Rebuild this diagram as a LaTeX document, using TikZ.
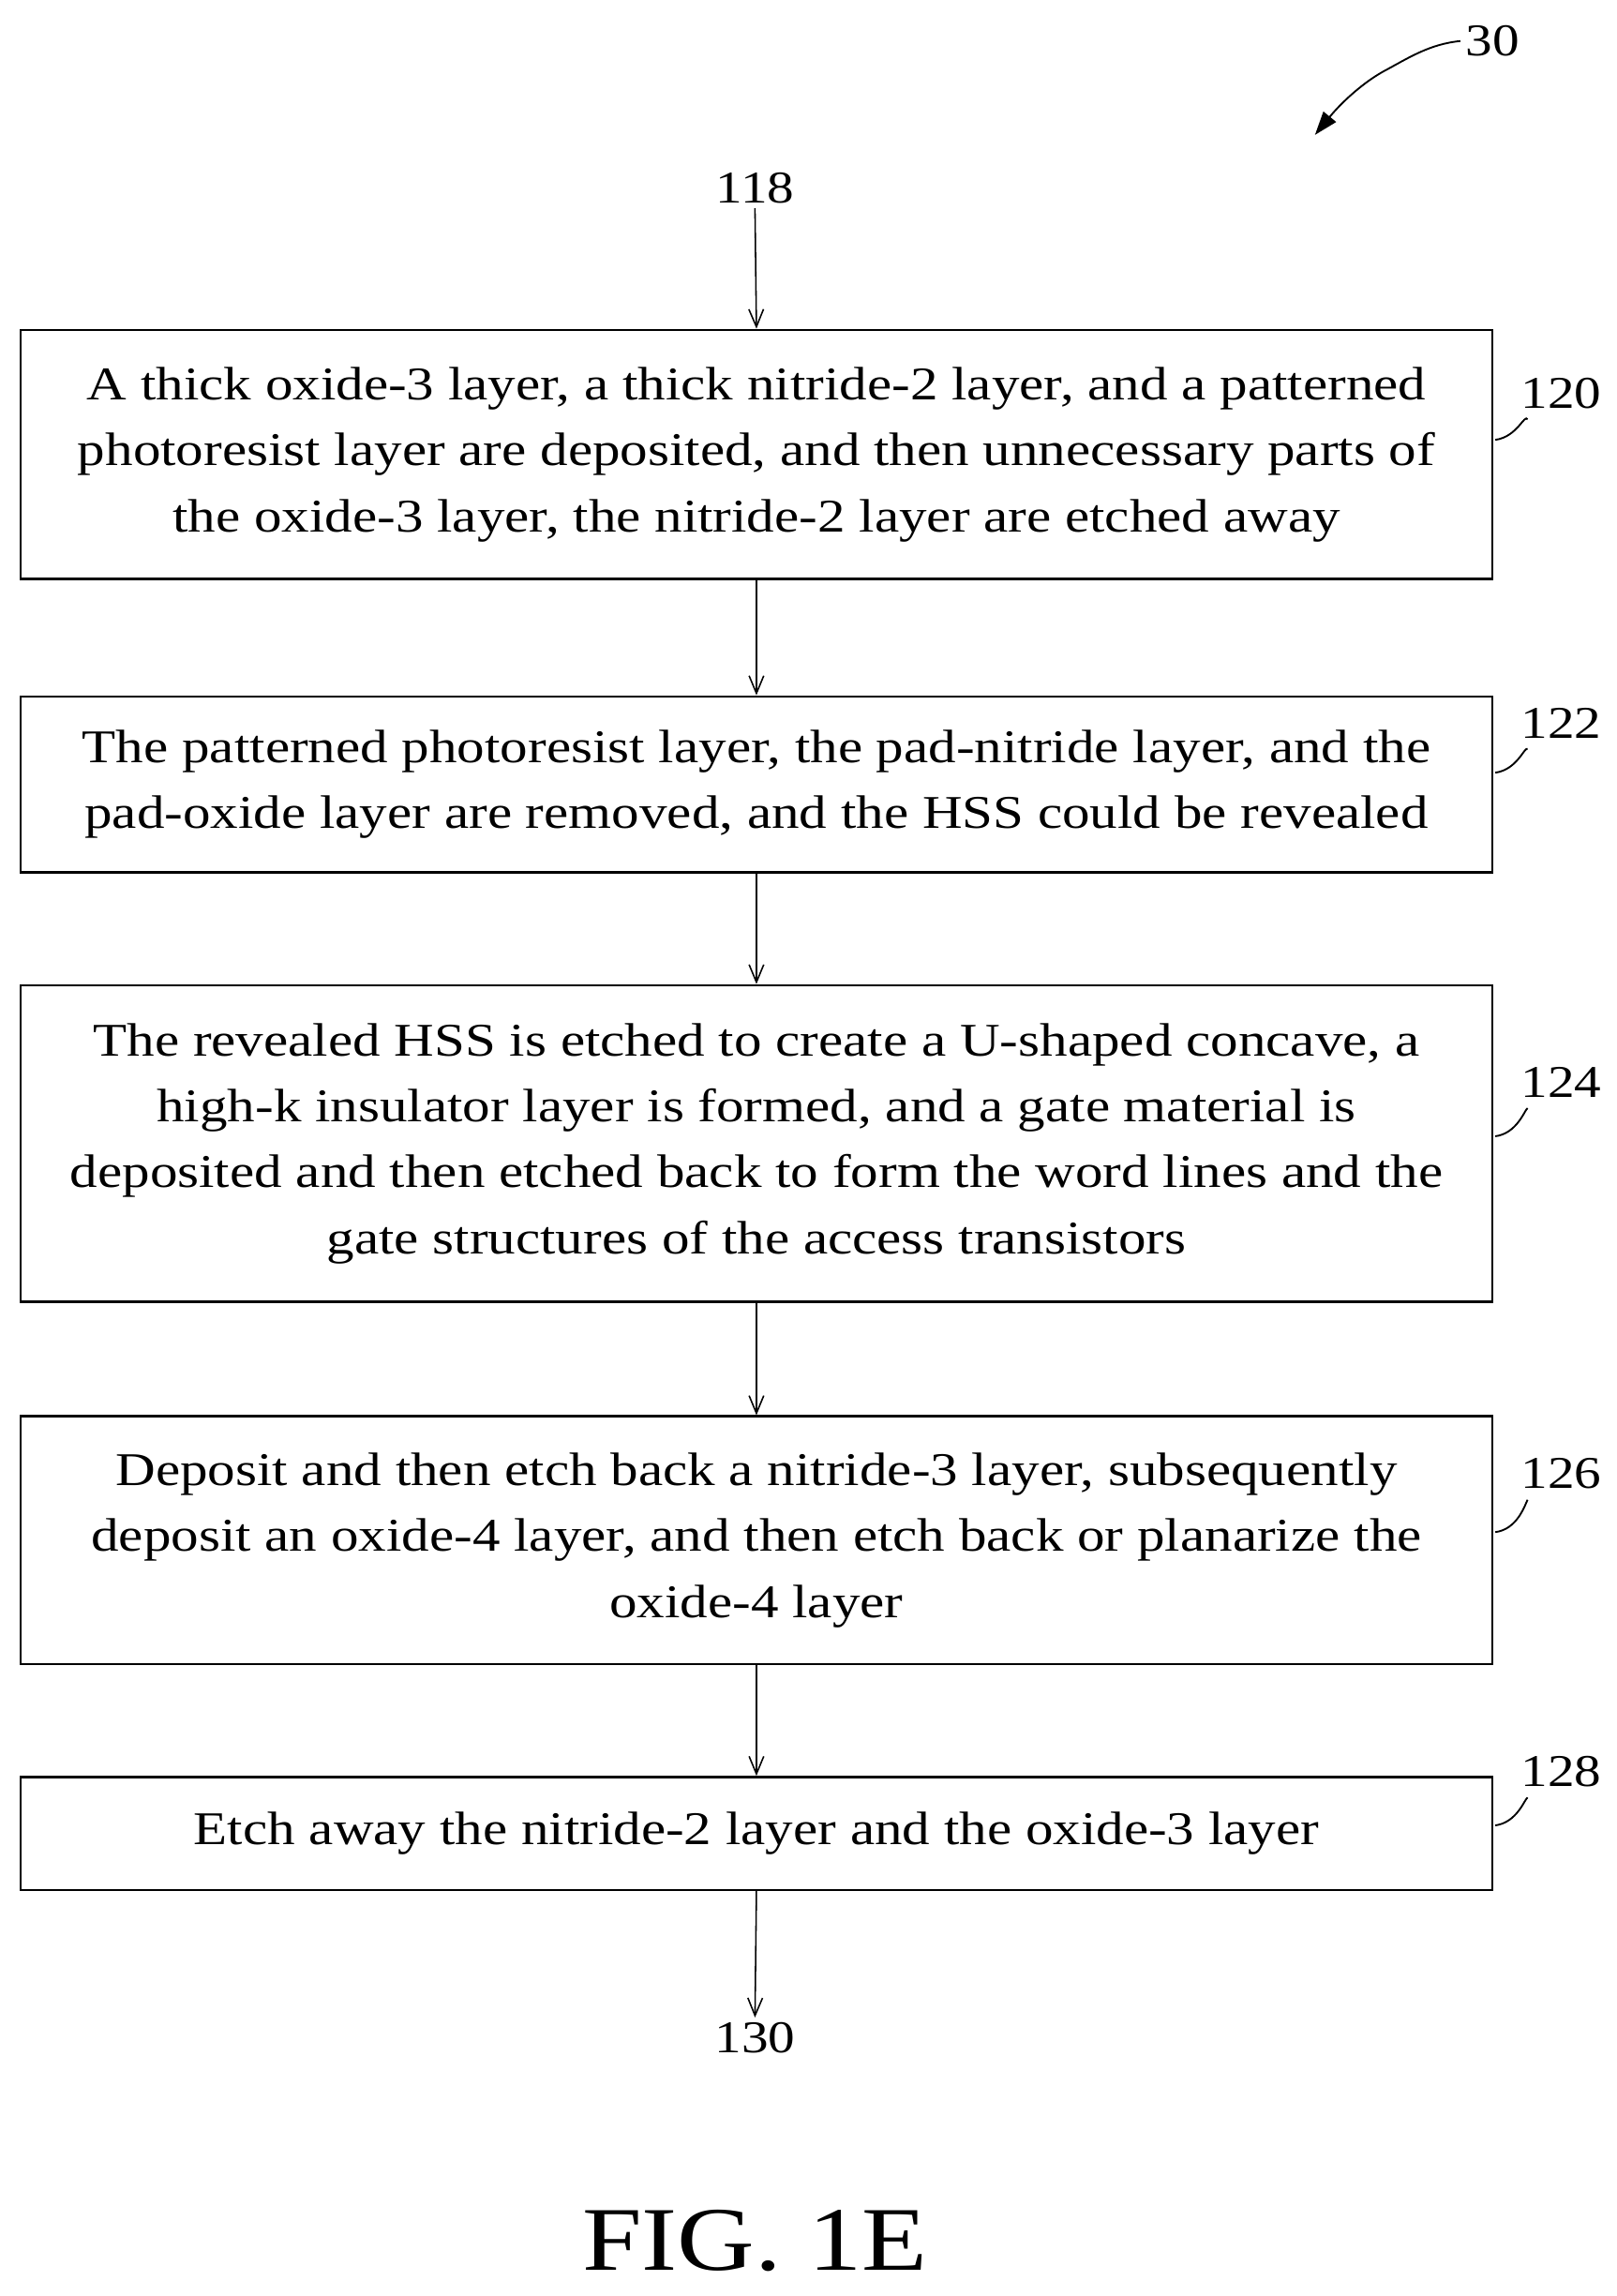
\documentclass[tikz,border=0pt]{standalone}
\usepackage{fontspec}
\setmainfont{Liberation Serif}[FakeStretch=1.18]
\usetikzlibrary{arrows.meta,calc}
\begin{document}
\begin{tikzpicture}[x=1pt,y=-1pt,
  box/.style={draw,line width=1.6pt,minimum width=1004pt,align=center,font=\fontsize{32}{45}\selectfont,inner sep=0pt},
  lab/.style={font=\fontsize{31}{36}\selectfont},
  arr/.style={->,line width=1pt,>={Straight Barb[length=12pt,width=10pt]}},
  lead/.style={line width=1.2pt}]
\useasboundingbox (0,0) rectangle (1103,1566);
\node[box,minimum height=170pt] (b1) at (516,310) {A thick oxide-3 layer, a thick nitride-2 layer, and a patterned\\photoresist layer are deposited, and then unnecessary parts of\\the oxide-3 layer, the nitride-2 layer are etched away};
\node[box,minimum height=120pt] (b2) at (516,535) {The patterned photoresist layer, the pad-nitride layer, and the\\pad-oxide layer are removed, and the HSS could be revealed};
\node[box,minimum height=216pt] (b3) at (516,780) {The revealed HSS is etched to create a U-shaped concave, a\\high-k insulator layer is formed, and a gate material is\\deposited and then etched back to form the word lines and the\\gate structures of the access transistors};
\node[box,minimum height=169pt] (b4) at (516,1050.5) {Deposit and then etch back a nitride-3 layer, subsequently\\deposit an oxide-4 layer, and then etch back or planarize the\\oxide-4 layer};
\node[box,minimum height=77pt] (b5) at (516,1250.5) {Etch away the nitride-2 layer and the oxide-3 layer};
\node[lab] (t118) at (515,128) {118};
\node[lab] (t130) at (515,1390) {130};
\draw[arr] (t118.south) -- (b1.north);
\draw[arr] (b1.south) -- (b2.north);
\draw[arr] (b2.south) -- (b3.north);
\draw[arr] (b3.south) -- (b4.north);
\draw[arr] (b4.south) -- (b5.north);
\draw[arr] (b5.south) -- (t130.north);
\foreach \n/\y/\t in {l1/268/120,l2/493/122,l3/738/124,l4/1005/126,l5/1208/128}{
  \node[lab] (\n) at (1065,\y) {\t};
}
\foreach \n/\b/\yy in {l1/b1/300,l2/b2/527,l3/b3/775,l4/b4/1045,l5/b5/1245}{
  \coordinate (s\n) at (1020,\yy);
  \draw[lead] (s\n) .. controls (1035,\yy-2) and (1040,\yy-18) .. ($(\n.south west)+(8,4)$);
}
\node[lab] (t30) at (1018,28) {30};
\draw[line width=1.2pt,-{Triangle[length=16pt,width=11pt]}] (t30.west) .. controls (975,30) and (960,40) .. (945,48) .. controls (930,56) and (915,70) .. (897,92);
\node[font=\fontsize{62}{70}\selectfont] (fig) at (515,1528) {FIG. 1E};
\end{tikzpicture}
\end{document}
